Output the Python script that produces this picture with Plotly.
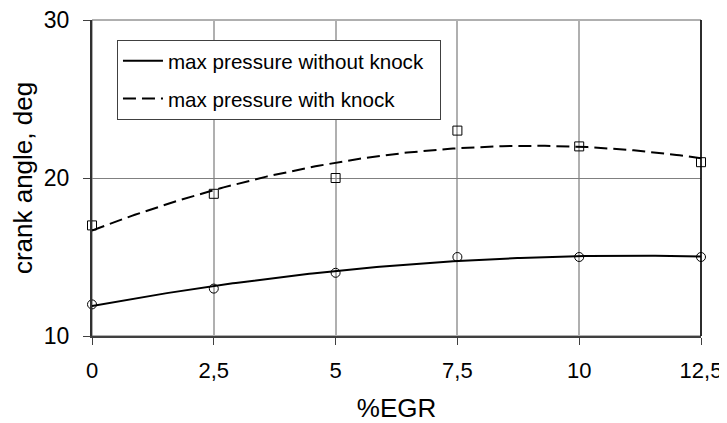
import numpy as np
import plotly.graph_objects as go

egr = [0, 2.5, 5, 7.5, 10, 12.5]
no_knock = [12, 13, 14, 15, 15, 15]
with_knock = [17, 19, 20, 23, 22, 21]
x_ticks = [0, 2.5, 5, 7.5, 10, 12.5]
x_ticklabels = ["0", "2,5", "5", "7,5", "10", "12,5"]
y_ticks = [10, 20, 30]

# polynomial trendlines (as in the original spreadsheet chart)
xs = np.linspace(0, 12.5, 200)
fit_no = np.polyval(np.polyfit(egr, no_knock, 2), xs)
fit_kn = np.polyval(np.polyfit(egr, with_knock, 2), xs)

FONT = "Liberation Sans, Arial, sans-serif"
NB = "\u00a0\u00a0"
fig = go.Figure()

fig.add_trace(go.Scatter(x=xs, y=fit_no, mode="lines", name="max pressure without knock" + NB,
                         line=dict(color="black", width=2), legendgroup="a", cliponaxis=False))
fig.add_trace(go.Scatter(x=xs, y=fit_kn, mode="lines", name="max pressure with knock",
                         line=dict(color="black", width=2, dash="13px,6px"), legendgroup="b",
                         cliponaxis=False))
fig.add_trace(go.Scatter(x=egr, y=no_knock, mode="markers", showlegend=False,
                         marker=dict(symbol="circle-open", size=9, color="black", line=dict(width=1)),
                         cliponaxis=False))
fig.add_trace(go.Scatter(x=egr, y=with_knock, mode="markers", showlegend=False,
                         marker=dict(symbol="square-open", size=9, color="black", line=dict(width=1)),
                         cliponaxis=False))

fig.add_shape(type="rect", xref="x domain", yref="y domain", x0=0, x1=1, y0=0, y1=1,
              line=dict(color="#606060", width=1), layer="below")
fig.add_shape(type="line", xref="x domain", yref="y domain", x0=1, x1=1, y0=0, y1=1,
              line=dict(color="black", width=1.5), layer="above")

fig.update_layout(
    width=719, height=415,
    margin=dict(l=84, r=26, t=12, b=87),
    paper_bgcolor="white", plot_bgcolor="white",
    font=dict(family=FONT, size=22, color="black"),
    showlegend=True,
    legend=dict(x=0.041, y=0.937, xanchor="left", yanchor="top",
                bgcolor="white", bordercolor="#404040", borderwidth=1,
                font=dict(size=20.6), tracegroupgap=8, itemwidth=40),
    xaxis=dict(range=[0, 12.5], tickvals=x_ticks, ticktext=x_ticklabels,
               showgrid=True, gridcolor="#b0b0b0", gridwidth=1.5,
               showline=True, linecolor="#404040", linewidth=2,
               ticks="outside", ticklen=7, tickcolor="#404040",
               zeroline=False, automargin=False, ticklabelstandoff=7,
               ticklabeloverflow="allow", tickfont=dict(size=22),
               title=dict(text="%EGR", standoff=18)),
    yaxis=dict(range=[10, 30], tickvals=y_ticks,
               showgrid=True, gridcolor="#808080", gridwidth=1,
               showline=True, linecolor="#303030", linewidth=2,
               ticks="outside", ticklen=7, tickcolor="#404040",
               zeroline=False, automargin=False, ticklabelstandoff=9,
               ticklabeloverflow="allow", tickfont=dict(size=23),
               title=dict(text="crank angle, deg", standoff=20)),
)

fig.write_html("out.html")
